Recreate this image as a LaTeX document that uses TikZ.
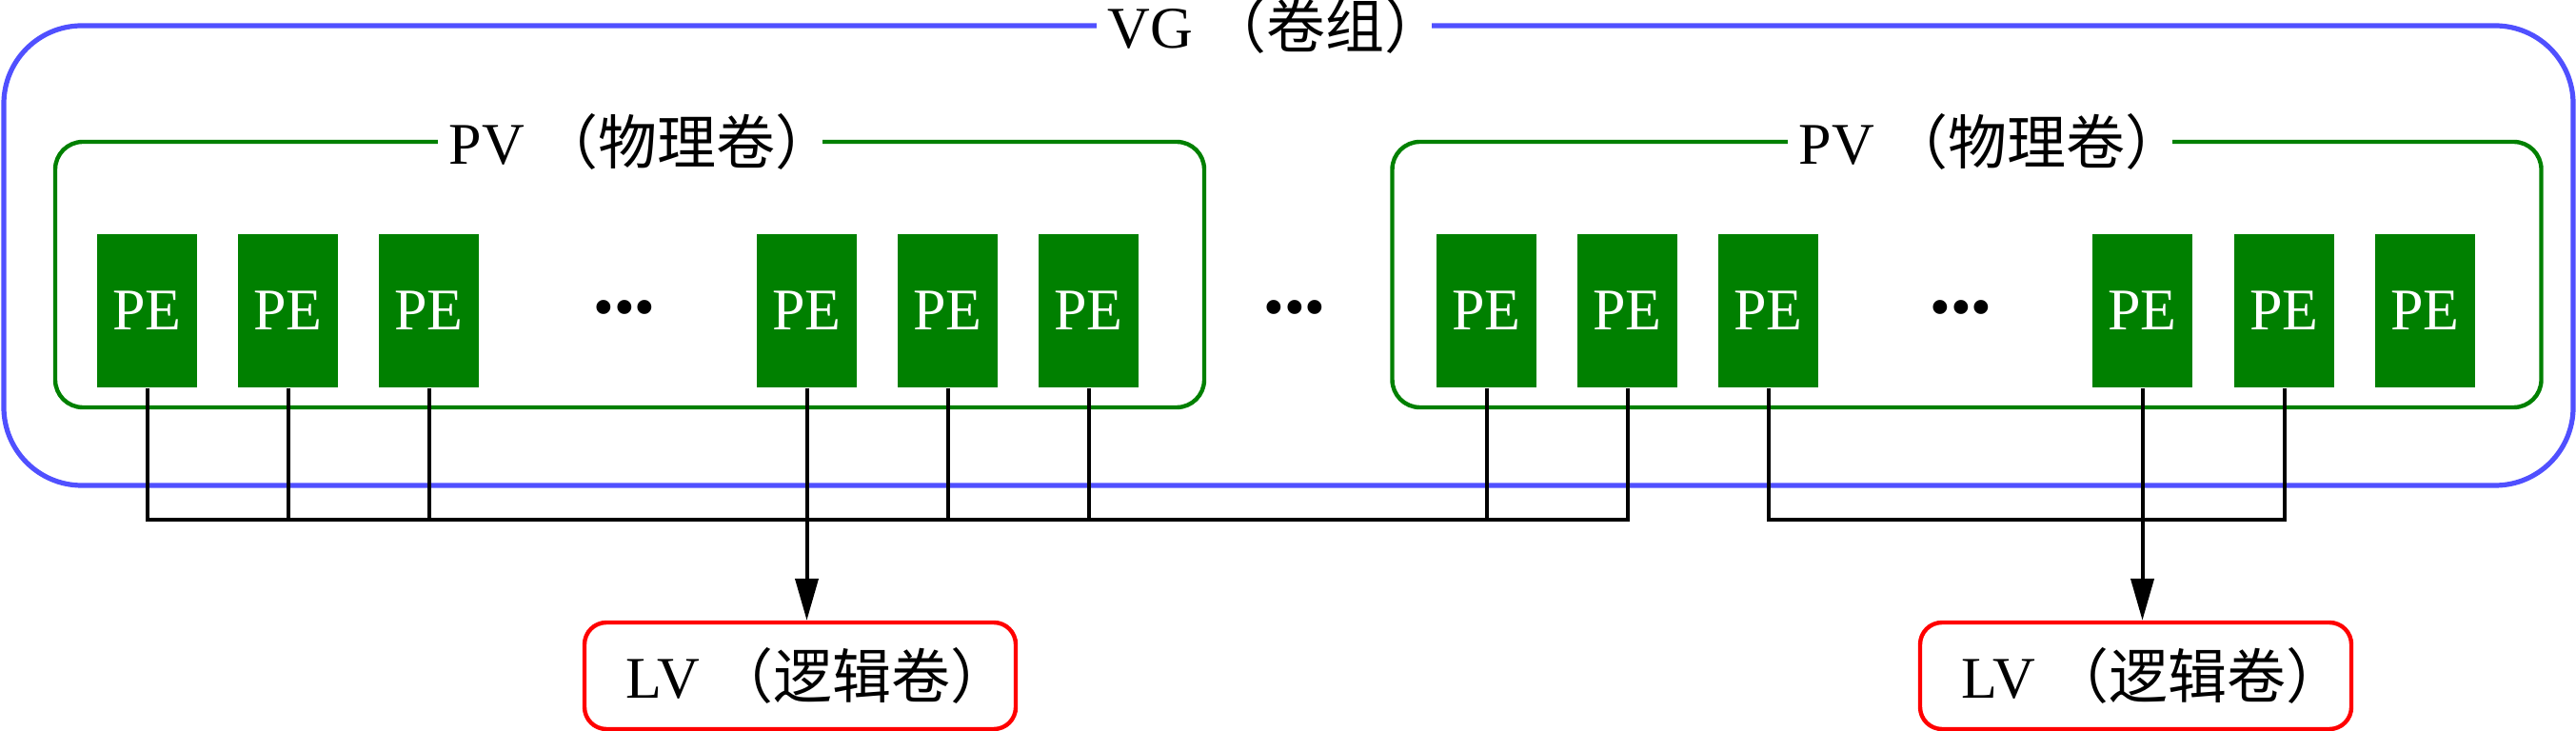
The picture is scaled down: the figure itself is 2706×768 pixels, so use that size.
\documentclass[tikz,border=0pt]{standalone}
\usepackage{fontspec}
\setmainfont{Liberation Serif}
\newfontfamily\cjk{Noto Sans CJK SC}
\usetikzlibrary{arrows.meta}

\definecolor{vgblue}{RGB}{80,80,255}
\definecolor{pvgreen}{RGB}{0,128,0}
\definecolor{lvred}{RGB}{255,0,0}
\newcommand{\zh}[1]{{\cjk #1}}

\begin{document}
\begin{tikzpicture}[x=0.25pt,y=-0.25pt,>={Triangle[length=11pt,width=6pt]},
  font=\fontsize{15.5pt}{18pt}\selectfont,
  vg/.style={draw=vgblue,line width=1.3pt,rounded corners=20.5pt,minimum width=674.75pt,minimum height=120.75pt},
  pv/.style={draw=pvgreen,line width=1.1pt,rounded corners=7.25pt,minimum width=301.75pt,minimum height=69.75pt},
  pe/.style={fill=pvgreen,text=white,minimum width=26.25pt,minimum height=40.25pt,inner sep=0pt},
  lv/.style={draw=lvred,line width=1.1pt,rounded corners=5.75pt,minimum width=113.25pt,minimum height=28pt},
  title/.style={fill=white,inner xsep=3pt,inner ysep=1pt,anchor=west},
  link/.style={line width=1pt}]

\useasboundingbox (0,0) rectangle (2706,768);

% volume group and physical volumes
\node[vg] (vg) at (1353.5,268.5) {};
\node[pv] (pvl) at (661.5,288.5) {};
\node[pv] (pvr) at (2066,288.5) {};
\node[title] (vgt) at (1151,27) {VG \zh{（卷组）}\kern-0.4em};
\node[title] (pvlt) at (459,149) {PV \zh{（物理卷）}\kern-0.4em};
\node[title] (pvrt) at (1877,149) {PV \zh{（物理卷）}\kern-0.4em};

% physical extents
\begin{scope}[every node/.append style={pe}]
  \node (l1) at (154.5,326.5) {PE};
  \node (l2) at (302.5,326.5) {PE};
  \node (l3) at (450.5,326.5) {PE};
  \node (l4) at (847.5,326.5) {PE};
  \node (l5) at (995.5,326.5) {PE};
  \node (l6) at (1143.5,326.5) {PE};
  \node (r1) at (1561.5,326.5) {PE};
  \node (r2) at (1709.5,326.5) {PE};
  \node (r3) at (1857.5,326.5) {PE};
  \node (r4) at (2250.5,326.5) {PE};
  \node (r5) at (2399.5,326.5) {PE};
  \node (r6) at (2547.5,326.5) {PE};
\end{scope}
\node (dl) at (656,330) {•••};
\node (dm) at (1360,330) {•••};
\node (dr) at (2060,330) {•••};

% logical volumes
\node[lv] (lv1) at (840.5,710) {\kern0.2em LV \zh{（逻辑卷）}\kern-0.4em};
\node[lv] (lv2) at (2243.5,710) {\kern0.2em LV \zh{（逻辑卷）}\kern-0.4em};

\coordinate (bus) at (0,546);
\draw[link] (l1.south) |- (r2 |- bus) -- (r2.south);
\draw[link] (r3.south) |- (r5 |- bus) -- (r5.south);
\path[link,draw] (l2.south) edge (l2 |- bus)
                 (l3.south) edge (l3 |- bus)
                 (l4.south) edge (l4 |- bus)
                 (l5.south) edge (l5 |- bus)
                 (l6.south) edge (l6 |- bus)
                 (r1.south) edge (r1 |- bus)
                 (r4.south) edge (r4 |- bus);
\path[->,link] (l4 |- bus) edge (l4 |- lv1.north)
               (r4 |- bus) edge (r4 |- lv2.north);

\end{tikzpicture}
\end{document}
